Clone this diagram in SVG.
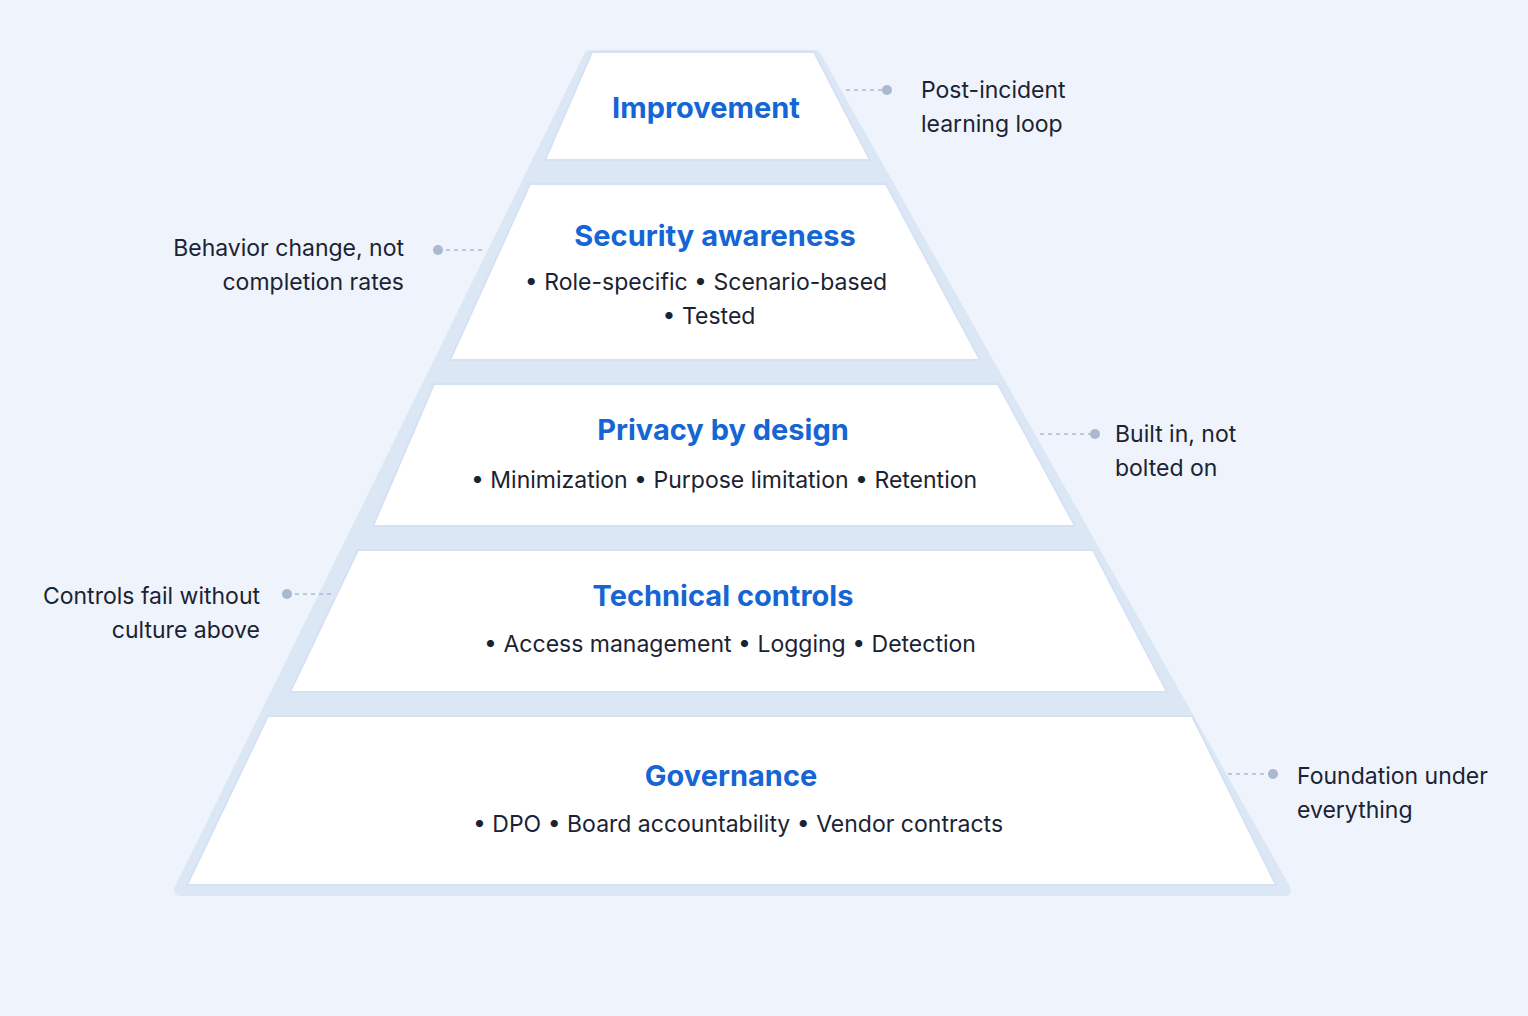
<svg xmlns="http://www.w3.org/2000/svg" width="1528" height="1016" viewBox="0 0 1528 1016">
<style>
.layer{fill:#ffffff;stroke:#d6e2f4;stroke-width:2;stroke-linejoin:round}
.t{font-family:Inter,"Noto Sans",sans-serif;font-weight:700;font-size:29px;fill:#1565d4;text-anchor:middle}
.b{font-family:Inter,"Noto Sans",sans-serif;font-size:23px;fill:#1b2333;text-anchor:middle}
.n{font-family:Inter,"Noto Sans",sans-serif;font-size:23px;fill:#1b2333}
.c{stroke:#aab9cf;stroke-width:1.5;stroke-dasharray:4 4;fill:none}
.d{fill:#aab9cf}
</style>
<rect width="1528" height="1016" fill="#eef3fc"/>
<path d="M590 56 L815 56 L1285 890 L180 890 Z" fill="#dce7f6" stroke="#dce7f6" stroke-width="12" stroke-linejoin="round"/>
<g id="improvement"><path class="layer" d="M592 52 L814 52 L870 160 L545 160 Z"/><text class="t" x="706" y="118">Improvement</text></g>
<g id="security-awareness"><path class="layer" d="M530 184 L886 184 L980 360 L450 360 Z"/><text class="t" x="715" y="246">Security awareness</text><text class="b" x="706" y="290">•  Role-specific  •  Scenario-based</text><text class="b" x="709" y="324">•  Tested</text></g>
<g id="privacy-by-design"><path class="layer" d="M434 384 L998 384 L1075 526 L373 526 Z"/><text class="t" x="723" y="440">Privacy by design</text><text class="b" x="724" y="488">•  Minimization   •  Purpose limitation   •  Retention</text></g>
<g id="technical-controls"><path class="layer" d="M358 550 L1093 550 L1167 692 L290 692 Z"/><text class="t" x="723" y="606">Technical controls</text><text class="b" x="730" y="652">•  Access management   •  Logging   •  Detection</text></g>
<g id="governance"><path class="layer" d="M268 716 L1192 716 L1276 885 L187 885 Z"/><text class="t" x="731" y="786">Governance</text><text class="b" x="738" y="832">•  DPO   •  Board accountability   •  Vendor contracts</text></g>
<g id="connectors">
<path class="c" d="M846 90 H886"/><circle class="d" cx="887" cy="90" r="5"/>
<path class="c" d="M438 250 H486"/><circle class="d" cx="438" cy="250" r="5"/>
<path class="c" d="M1040 434 H1094"/><circle class="d" cx="1095" cy="434" r="5"/>
<path class="c" d="M287 594 H334"/><circle class="d" cx="287" cy="594" r="5"/>
<path class="c" d="M1228 774 H1272"/><circle class="d" cx="1273" cy="774" r="5"/>
</g>
<g id="notes">
<text class="n" x="921" y="98">Post-incident</text><text class="n" x="921" y="132">learning loop</text>
<text class="n" x="404" y="256" text-anchor="end">Behavior change, not</text><text class="n" x="404" y="290" text-anchor="end">completion rates</text>
<text class="n" x="1115" y="442">Built in, not</text><text class="n" x="1115" y="476">bolted on</text>
<text class="n" x="260" y="604" text-anchor="end">Controls fail without</text><text class="n" x="260" y="638" text-anchor="end">culture above</text>
<text class="n" x="1297" y="784">Foundation under</text><text class="n" x="1297" y="818">everything</text>
</g>
</svg>
